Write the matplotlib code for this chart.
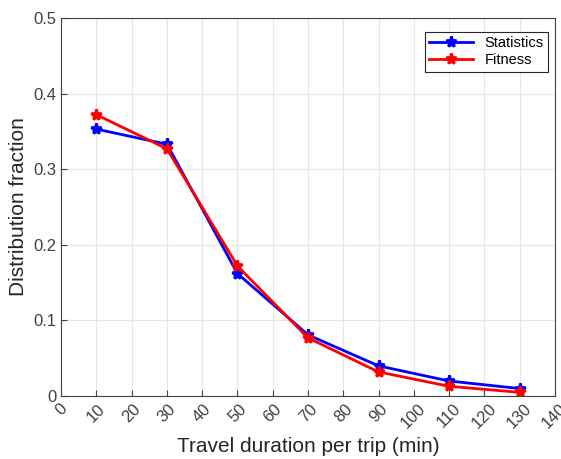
import matplotlib
matplotlib.use("Agg")
import matplotlib.pyplot as plt

plt.rcParams.update({"font.family": ["Liberation Sans", "DejaVu Sans"]})

duration = [10, 30, 50, 70, 90, 110, 130]
statistics = [0.353, 0.333, 0.162, 0.081, 0.040, 0.020, 0.010]
fitness = [0.372, 0.327, 0.172, 0.077, 0.032, 0.013, 0.005]
xticks = list(range(0, 141, 10))
yticks = [0, 0.1, 0.2, 0.3, 0.4, 0.5]

fig = plt.figure(figsize=(5.61, 4.59), dpi=100)
ax = fig.add_axes([0.109, 0.137, 0.880, 0.824])

ax.plot(duration, statistics, color="#0000ff", lw=2, marker="*", ms=8, mew=2,
        label="Statistics")
ax.plot(duration, fitness, color="#ff0000", lw=2, marker="*", ms=8, mew=2,
        label="Fitness")

ax.set_xlim(0, 140)
ax.set_ylim(0, 0.5)
ax.set_xticks(xticks)
ax.set_xticklabels([str(t) for t in xticks], rotation=45, ha="center", fontsize=12)
ax.set_yticks(yticks)
ax.set_yticklabels(["0", "0.1", "0.2", "0.3", "0.4", "0.5"], fontsize=12)
ax.tick_params(direction="in", length=4, color="#404040", labelcolor="#404040")
ax.grid(True, color="#e6e6e6", lw=0.8)
for sp in ax.spines.values():
    sp.set_color("#404040")
    sp.set_linewidth(0.8)

ax.set_xlabel("Travel duration per trip (min)", fontsize=15, color="#262626")
ax.set_ylabel("Distribution fraction", fontsize=15, color="#262626")

leg = ax.legend(loc="upper right", bbox_to_anchor=(0.986, 0.963), fontsize=10.5,
                fancybox=False, framealpha=1, edgecolor="#262626", handlelength=3,
                borderpad=0.3, labelspacing=0.2, borderaxespad=0)
leg.get_frame().set_linewidth(0.8)

fig.savefig("out.png", dpi=100)
